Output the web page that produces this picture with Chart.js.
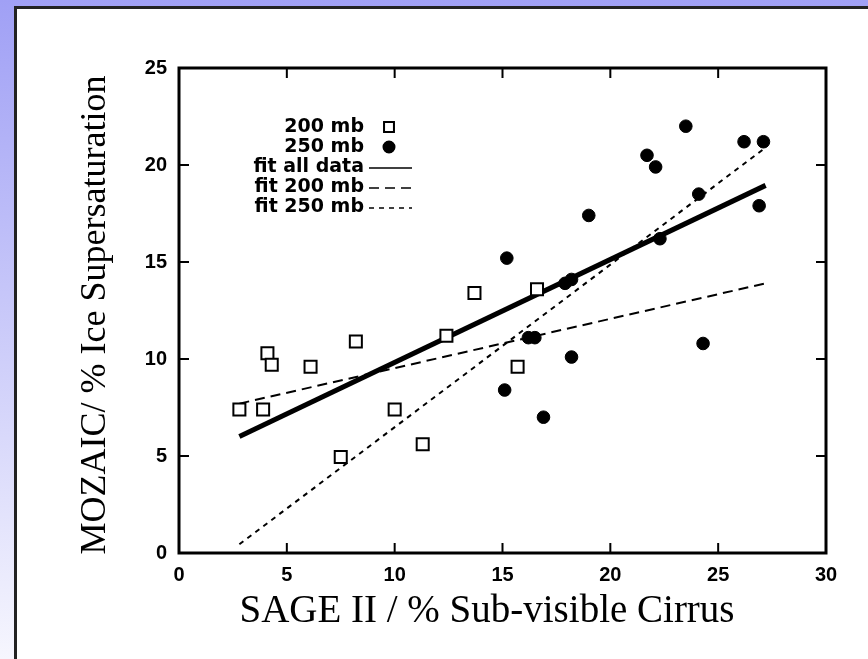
<!DOCTYPE html>
<html>
<head>
<meta charset="utf-8">
<script src="https://cdn.jsdelivr.net/npm/chart.js@4"></script>
<style>
  html, body { margin: 0; padding: 0; }
  body {
    width: 868px; height: 659px; overflow: hidden; position: relative;
    background: linear-gradient(to bottom, #a0a0f5 0%, #cfcffa 55%, #f6f6fe 100%);
  }
  #panel {
    position: absolute; left: 14px; top: 6px; width: 870px; height: 670px;
    background: #fff; border-left: 3px solid #222; border-top: 3px solid #222;
  }
  #wrap { position: absolute; left: 0; top: 0; width: 868px; height: 659px; }
</style>
</head>
<body>
<div id="panel"></div>
<div id="wrap"><canvas id="svcChart" width="868" height="659"></canvas></div>
<script>
// 200 mb points (open squares)
const x200 = [2.8, 3.9, 4.1, 4.3, 6.1, 8.2, 7.5, 10.0, 11.3, 12.4, 13.7, 16.6, 15.7];
const y200 = [7.4, 7.4, 10.3, 9.7, 9.6, 10.9, 4.95, 7.4, 5.6, 11.2, 13.4, 13.6, 9.6];

// 250 mb points (filled circles)
const x250 = [15.1, 15.2, 16.2, 16.5, 16.9, 17.9, 18.2, 18.2, 19.0, 21.7, 22.1, 22.3, 23.5, 24.1, 24.3, 26.2, 26.9, 27.1];
const y250 = [8.4, 15.2, 11.1, 11.1, 7.0, 13.9, 14.1, 10.1, 17.4, 20.5, 19.9, 16.2, 22.0, 18.5, 10.8, 21.2, 17.9, 21.2];

// regression lines, end points only
const fitX = [2.8, 27.2];
const fitAllY = [6.0, 18.95];
const fit200Y = [7.7, 13.9];
const fit250Y = [0.45, 20.9];

const xTicks = [0, 5, 10, 15, 20, 25, 30];
const yTicks = [0, 5, 10, 15, 20, 25];

const legendLabels = ["200 mb", "250 mb", "fit all data", "fit 200 mb", "fit 250 mb"];

const xTitle = "SAGE II / % Sub-visible Cirrus";
const yTitle = "MOZAIC/ % Ice Supersaturation";

const pts = (xs, ys) => xs.map((x, i) => ({ x: x, y: ys[i] }));

const tickFont = { family: "'Liberation Sans', Arial, sans-serif", size: 20, weight: "bold" };

// frame with inward ticks on all four sides
const framePlugin = {
    id: "frame",
    afterDatasetsDraw(chart) {
        const { ctx, chartArea: a, scales } = chart;
        ctx.save();
        ctx.strokeStyle = "#000";
        ctx.lineWidth = 2;
        const len = 10;
        ctx.beginPath();
        scales.x.ticks.forEach(t => {
            const px = scales.x.getPixelForValue(t.value);
            ctx.moveTo(px, a.bottom); ctx.lineTo(px, a.bottom - len);
            ctx.moveTo(px, a.top); ctx.lineTo(px, a.top + len);
        });
        scales.y.ticks.forEach(t => {
            const py = scales.y.getPixelForValue(t.value);
            ctx.moveTo(a.left, py); ctx.lineTo(a.left + len, py);
            ctx.moveTo(a.right, py); ctx.lineTo(a.right - len, py);
        });
        ctx.stroke();
        ctx.lineWidth = 3;
        ctx.strokeRect(a.left, a.top, a.right - a.left, a.bottom - a.top);
        ctx.restore();
    }
};

// legend: label on the left, symbol on the right
const keyPlugin = {
    id: "key",
    afterDatasetsDraw(chart) {
        const { ctx } = chart;
        const textRight = 364, symX = 389, lineL = 369, lineR = 412;
        const rows = [127, 147, 167, 187, 207];
        ctx.save();
        ctx.font = "bold 19px 'DejaVu Sans', sans-serif";
        ctx.fillStyle = "#000";
        ctx.textAlign = "right";
        ctx.textBaseline = "middle";
        chart.data.datasets.forEach((ds, i) => {
            const y = rows[i];
            ctx.fillText(legendLabels[i], textRight, y);
            if (ds.showLine) {
                ctx.strokeStyle = "#000";
                ctx.lineWidth = 1.5;
                ctx.setLineDash(ds.borderDash || []);
                ctx.beginPath();
                ctx.moveTo(lineL, y + 1); ctx.lineTo(lineR, y + 1);
                ctx.stroke();
                ctx.setLineDash([]);
            } else {
                Chart.helpers.drawPoint(ctx, {
                    pointStyle: ds.pointStyle,
                    radius: ds.pointStyle === "rect" ? 7 : 5.5,
                    borderWidth: ds.borderWidth,
                    rotation: 0
                }, symX, y);
                ctx.fillStyle = ds.backgroundColor;
                ctx.strokeStyle = ds.borderColor;
                ctx.lineWidth = ds.borderWidth;
                ctx.fill();
                ctx.stroke();
                ctx.fillStyle = "#000";
            }
        });
        ctx.restore();
    }
};

// axis titles in a serif face
const titlePlugin = {
    id: "axisTitles",
    afterDraw(chart) {
        const { ctx } = chart;
        ctx.save();
        ctx.fillStyle = "#000";
        ctx.textAlign = "center";
        ctx.textBaseline = "middle";
        ctx.font = "39px 'Liberation Serif', 'Times New Roman', serif";
        ctx.fillText(xTitle, 487, 612);
        ctx.font = "36px 'Liberation Serif', 'Times New Roman', serif";
        ctx.translate(96, 315);
        ctx.rotate(-Math.PI / 2);
        ctx.fillText(yTitle, 0, 0);
        ctx.restore();
    }
};

new Chart(document.getElementById("svcChart"), {
    type: "scatter",
    data: {
        datasets: [
            {
                label: legendLabels[0],
                data: pts(x200, y200),
                pointStyle: "rect",
                pointRadius: 8.5,
                borderWidth: 2,
                borderColor: "#000",
                backgroundColor: "#fff"
            },
            {
                label: legendLabels[1],
                data: pts(x250, y250),
                pointStyle: "circle",
                pointRadius: 6.3,
                borderWidth: 1,
                borderColor: "#000",
                backgroundColor: "#000"
            },
            {
                label: legendLabels[2],
                data: pts(fitX, fitAllY),
                showLine: true,
                pointRadius: 0,
                borderWidth: 5,
                borderColor: "#000"
            },
            {
                label: legendLabels[3],
                data: pts(fitX, fit200Y),
                showLine: true,
                pointRadius: 0,
                borderWidth: 2,
                borderDash: [10, 6],
                borderColor: "#000"
            },
            {
                label: legendLabels[4],
                data: pts(fitX, fit250Y),
                showLine: true,
                pointRadius: 0,
                borderWidth: 2,
                borderDash: [5, 5],
                borderColor: "#000"
            }
        ]
    },
    options: {
        responsive: false,
        animation: false,
        layout: { padding: { top: 68, right: 42, left: 0, bottom: 0 } },
        plugins: {
            legend: { display: false },
            tooltip: { enabled: false }
        },
        scales: {
            x: {
                type: "linear",
                min: xTicks[0],
                max: xTicks[xTicks.length - 1],
                afterBuildTicks: s => { s.ticks = xTicks.map(v => ({ value: v })); },
                afterFit: s => { s.height = 106; },
                grid: { display: false, drawTicks: false },
                border: { display: false },
                ticks: { color: "#000", font: tickFont, padding: 10, maxRotation: 0 }
            },
            y: {
                type: "linear",
                min: yTicks[0],
                max: yTicks[yTicks.length - 1],
                afterBuildTicks: s => { s.ticks = yTicks.map(v => ({ value: v })); },
                afterFit: s => { s.width = 179; },
                grid: { display: false, drawTicks: false },
                border: { display: false },
                ticks: { color: "#000", font: tickFont, padding: 12 }
            }
        }
    },
    plugins: [framePlugin, keyPlugin, titlePlugin]
});
</script>
</body>
</html>
